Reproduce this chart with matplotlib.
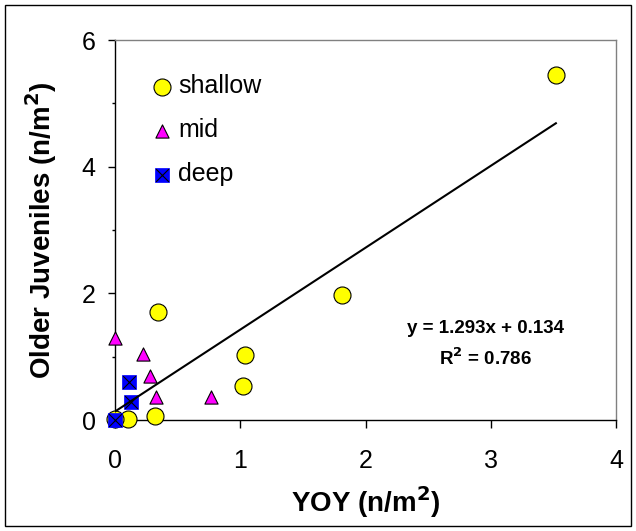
import matplotlib
matplotlib.use('Agg')
import matplotlib.pyplot as plt
import matplotlib.patches as patches
from matplotlib.ticker import MultipleLocator
import numpy as np

plt.rcParams['font.family'] = ['Liberation Sans', 'DejaVu Sans']

# Shallow sites
shallowX = [3.52, 1.81, 1.04, 1.02, 0.34, 0.32, 0.10, 0.00]
shallowY = [5.44, 1.97, 1.02, 0.53, 1.70, 0.07, 0.01, 0.01]

# Mid sites
midX = [0.00, 0.22, 0.28, 0.33, 0.77]
midY = [1.30, 1.05, 0.70, 0.37, 0.37]

# Deep sites
deepX = [0.11, 0.13, 0.00]
deepY = [0.60, 0.29, 0.00]

slope = 1.293
intercept = 0.134
rSquared = 0.786

fig = plt.figure(figsize=(6.36, 5.31), dpi=100)
ax = fig.add_axes([115 / 636, 1 - 420 / 531, 501 / 636, 380 / 531])

# Outer frame round the whole figure
fig.patches.append(patches.Rectangle((5 / 636, 5 / 531), 626 / 636, 521 / 531,
                                     transform=fig.transFigure, fill=False,
                                     edgecolor='black', linewidth=1.0))

s1 = ax.scatter(shallowX, shallowY, s=150, marker='o', facecolor='#ffff00',
                edgecolor='black', linewidth=0.8, zorder=3)
s2 = ax.scatter(midX, midY, s=90, marker='^', facecolor='#ff00ff',
                edgecolor='black', linewidth=0.8, zorder=3)
s3 = ax.scatter(deepX, deepY, s=90, marker='s', facecolor='#0000ff',
                edgecolor='#0000ff', linewidth=0.5, zorder=4)
s3x = ax.scatter(deepX, deepY, s=85, marker='x', color='black',
                 linewidth=0.8, zorder=5)

# Regression line over the range of x values
allX = np.array(shallowX + midX + deepX)
lineX = np.array([allX.min(), allX.max()])
ax.plot(lineX, slope * lineX + intercept, color='black', linewidth=1.5, zorder=6)

ax.text(2.96, 1.44, 'y = %.3fx + %.3f' % (slope, intercept), fontsize=13.5,
        fontweight='bold', ha='center', va='center')
ax.text(2.96, 0.98, 'R$^\\mathbf{2}$ = %.3f' % rSquared, fontsize=13.5,
        fontweight='bold', ha='center', va='center')

ax.set_xlim(0, 4)
ax.set_ylim(0, 6)
ax.set_xticks([0, 1, 2, 3, 4])
ax.set_yticks([0, 2, 4, 6])
ax.yaxis.set_minor_locator(MultipleLocator(1))
ax.tick_params(direction='out', labelsize=18)
ax.tick_params(axis='x', length=6, width=1, pad=15)
ax.tick_params(axis='y', length=5, width=1, pad=9)
ax.tick_params(axis='y', which='minor', length=2.5, width=1)
for side in ['top', 'right']:
    ax.spines[side].set_color('#808080')
    ax.spines[side].set_linewidth(1)
for side in ['left', 'bottom']:
    ax.spines[side].set_color('black')
    ax.spines[side].set_linewidth(1)
for c in [s1, s2, s3, s3x]:
    c.set_clip_on(False)

ax.set_xlabel('YOY (n/m$^\\mathbf{2}$)', fontsize=20, fontweight='bold', labelpad=8)
ax.set_ylabel('Older Juveniles (n/m$^\\mathbf{2}$)', fontsize=20, fontweight='bold', labelpad=16)

ax.legend([s1, s2, (s3, s3x)], ['shallow', 'mid', 'deep'], loc='upper left',
          bbox_to_anchor=(0.054, 0.936), borderaxespad=0, frameon=False, fontsize=18,
          handletextpad=0.24, labelspacing=0.8, handlelength=0.8)

plt.savefig('out.png', dpi=100)
